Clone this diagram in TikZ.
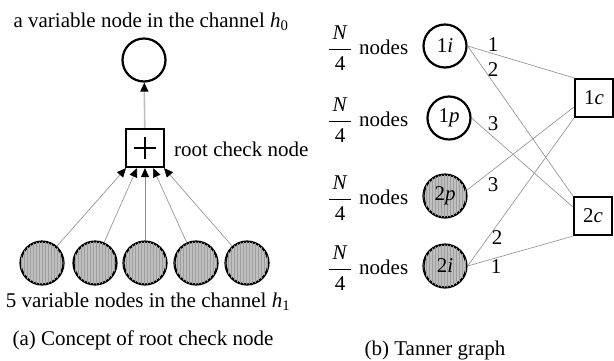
\documentclass[tikz,border=0pt]{standalone}
\usepackage{fontspec}
\setmainfont{Liberation Serif}
\usetikzlibrary{arrows.meta,patterns}
\newcommand{\NFour}{\renewcommand\arraystretch{1.2}\begin{tabular}{@{\,}c@{\,}}\textit{N}\\\hline 4\end{tabular}}
\begin{document}
\begin{tikzpicture}[x=1pt,y=-1pt,
  every node/.style={font=\fontsize{21}{25}\selectfont, inner sep=0pt},
  vnode/.style={circle, draw, line width=2.2pt, minimum size=43pt},
  gnode/.style={vnode, fill=black!25, postaction={pattern=vertical lines, pattern color=black!38}},
  cnode/.style={rectangle, draw, line width=2.2pt, minimum size=38pt},
  edge/.style={draw=black!45, line width=0.6pt},
  arr/.style={edge, -{Triangle[length=9pt,width=8pt,color=black]}}
]
\useasboundingbox (0,0) rectangle (614,360);
% ---- (a) ----
\node (ttl) at (151,22) {a variable node in the channel \textit{h}\textsubscript{0}};
\node[vnode] (top) at (144,60) {};
\node[cnode] (sq) at (145,148) {};
\draw[line width=1.2pt] ([xshift=-11pt]sq.center) -- ([xshift=11pt]sq.center);
\draw[line width=1.2pt] ([yshift=-11pt]sq.center) -- ([yshift=11pt]sq.center);
\node[anchor=west] (rl) at (174,149) {root check node};
\draw[arr, draw=black!25, line width=1.6pt] (sq) -- (top);
\foreach \i/\x in {1/42,2/95,3/145,4/196,5/247}
  \node[gnode] (v\i) at (\x,263) {};
\draw[arr] (v1) -- ([xshift=-19pt]sq.south);
\draw[arr] (v2) -- ([xshift=-8pt]sq.south);
\draw[arr] (v3) -- (sq.south);
\draw[arr] (v4) -- ([xshift=8pt]sq.south);
\draw[arr] (v5) -- ([xshift=19pt]sq.south);
\node (bt) at (148,302) {5 variable nodes in the channel \textit{h}\textsubscript{1}};
\node (ca) at (143,340) {(a) Concept of root check node};
% ---- (b) ----
\node[vnode] (i1) at (445,46) {1\textit{i}};
\node[vnode] (p1) at (449,118) {1\textit{p}};
\node[gnode] (p2) at (445,196) {2\textit{p}};
\node[gnode] (i2) at (445,266) {2\textit{i}};
\node[cnode] (c1) at (594,98) {1\textit{c}};
\node[cnode] (c2) at (593,216) {2\textit{c}};
\foreach \k/\y in {1/49,2/121,3/199,4/269}{
  \node (f\k) at (340,\y) {\NFour};
  \node[anchor=base west] (w\k) at (359,\y+5) {nodes};
}
\draw[edge] (i1.east) -- (c1.north west);
\draw[edge] (i1.east) -- (c2.north west);
\draw[edge] (p1.east) -- ([yshift=9pt]c2.west);
\draw[edge] (p2.15) -- ([yshift=-9pt]c1.west);
\draw[edge] (i2.east) -- (c1.south west);
\draw[edge] (i2.east) -- (c2.south west);
\node (l1) at (493,45) {1};
\node (l2) at (493,70) {2};
\node (l3) at (493,124) {3};
\node (l4) at (493,185) {3};
\node (l5) at (497,238) {2};
\node (l6) at (496,267) {1};
\node (cb) at (435,350) {(b) Tanner graph};
\end{tikzpicture}
\end{document}
